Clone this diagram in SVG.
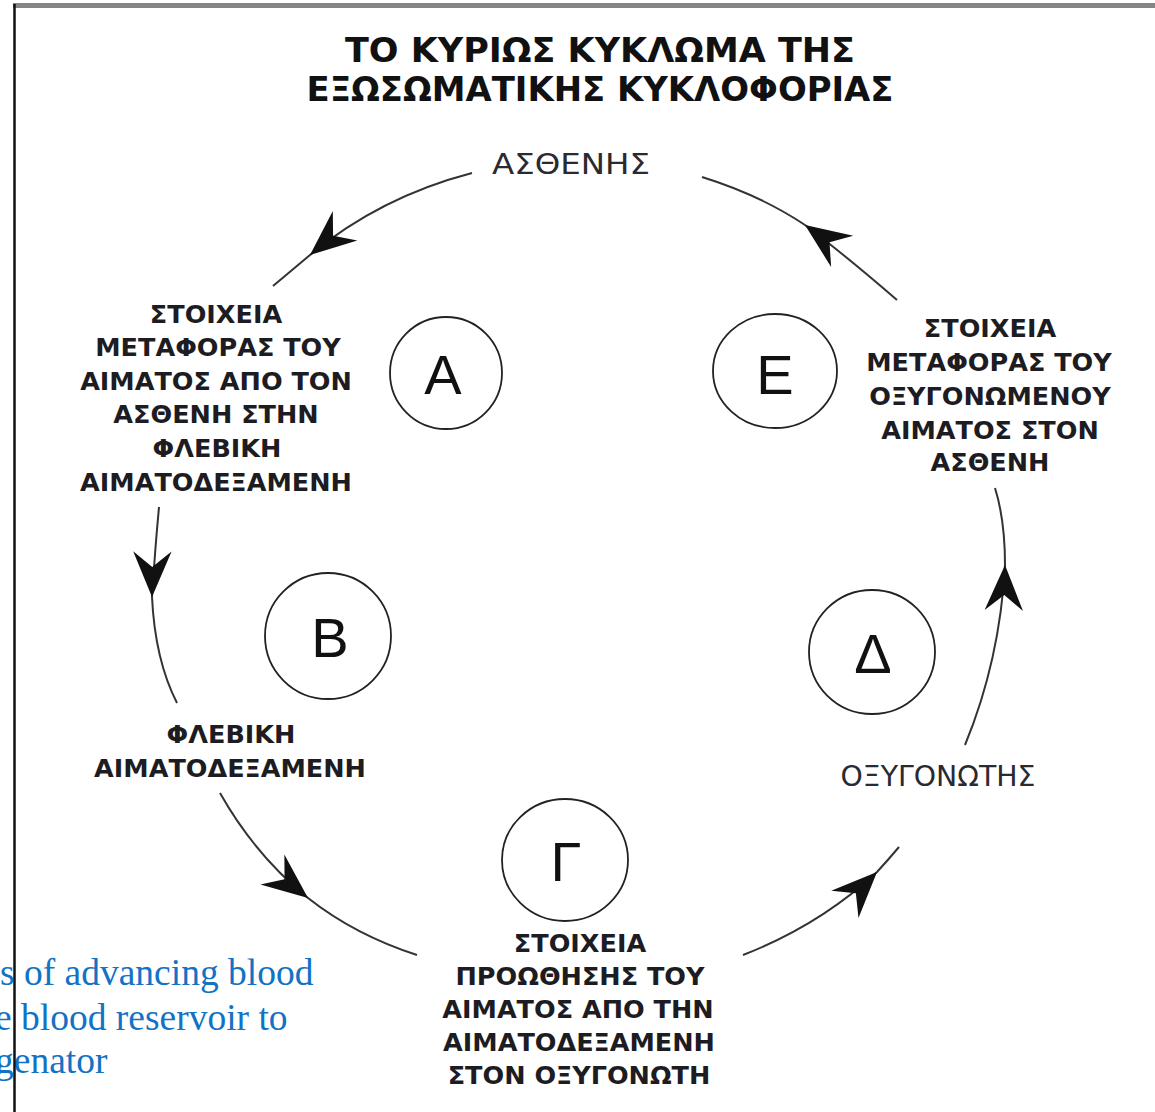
<svg xmlns="http://www.w3.org/2000/svg" width="1155" height="1112" viewBox="0 0 1155 1112">
<style>
.title{font-family:"DejaVu Sans Condensed","DejaVu Sans",sans-serif;font-weight:bold;font-size:33px;fill:#111;text-anchor:middle}
.lbl{font-family:"DejaVu Sans",Verdana,sans-serif;font-weight:bold;font-size:25.5px;fill:#1c1c22;text-anchor:middle}
.lblr{font-family:"DejaVu Sans",Verdana,sans-serif;font-size:28px;fill:#2a2a30;text-anchor:middle}
.ring{fill:none;stroke:#222;stroke-width:1.8}
.letter{font-family:"Liberation Sans",Arial,sans-serif;font-size:56px;fill:#111;text-anchor:middle}
.conn{fill:none;stroke:#333;stroke-width:2;marker-mid:url(#ah)}
.blue{font-family:"Liberation Serif","Times New Roman",serif;font-size:37.5px;fill:#1272c4}
</style>
<defs>
<marker id="ah" markerUnits="userSpaceOnUse" markerWidth="60" markerHeight="60" viewBox="-45 -25 50 50" refX="0" refY="0" orient="auto">
<path d="M0,0 L-38,-16 L-25,0 L-38,16 Z" fill="#111"/>
</marker>
</defs>
<rect x="0" y="0" width="1155" height="1112" fill="#fff"/>

<g id="title">
<text class="title" x="600" y="62" textLength="510" lengthAdjust="spacingAndGlyphs">ΤΟ ΚΥΡΙΩΣ ΚΥΚΛΩΜΑ ΤΗΣ</text>
<text class="title" x="600" y="101" textLength="587" lengthAdjust="spacingAndGlyphs">ΕΞΩΣΩΜΑΤΙΚΗΣ ΚΥΚΛΟΦΟΡΙΑΣ</text>
</g>

<g id="connectors">
<path class="conn" d="M472,173 Q380,197 310,255 Q292,270 273,286"/>
<path class="conn" d="M159,507 Q155,550 152,597 Q155,660 177,703"/>
<path class="conn" d="M220,793 Q255,855 308,898 Q355,935 417,955"/>
<path class="conn" d="M743,955 Q820,925 877,872 Q888,860 899,847"/>
<path class="conn" d="M965,745 Q1000,660 1005,565 Q1005,520 995,488"/>
<path class="conn" d="M897,300 Q845,255 805,225 Q760,195 702,177"/>
</g>

<g id="node-patient">
<text class="lblr" x="571" y="174" font-size="30" textLength="158" lengthAdjust="spacingAndGlyphs">ΑΣΘΕΝΗΣ</text>
</g>

<g id="node-transfer-to-reservoir">
<text class="lbl" x="216" y="323">ΣΤΟΙΧΕΙΑ</text>
<text class="lbl" x="218" y="356">ΜΕΤΑΦΟΡΑΣ ΤΟΥ</text>
<text class="lbl" x="216" y="390">ΑΙΜΑΤΟΣ ΑΠΟ ΤΟΝ</text>
<text class="lbl" x="216" y="423">ΑΣΘΕΝΗ ΣΤΗΝ</text>
<text class="lbl" x="217" y="457">ΦΛΕΒΙΚΗ</text>
<text class="lbl" x="216" y="491">ΑΙΜΑΤΟΔΕΞΑΜΕΝΗ</text>
</g>

<g id="node-venous-reservoir">
<text class="lbl" x="231" y="743">ΦΛΕΒΙΚΗ</text>
<text class="lbl" x="230" y="777">ΑΙΜΑΤΟΔΕΞΑΜΕΝΗ</text>
</g>

<g id="node-advance-to-oxygenator">
<text class="lbl" x="580" y="952">ΣΤΟΙΧΕΙΑ</text>
<text class="lbl" x="580" y="985">ΠΡΟΩΘΗΣΗΣ ΤΟΥ</text>
<text class="lbl" x="578" y="1018">ΑΙΜΑΤΟΣ ΑΠΟ ΤΗΝ</text>
<text class="lbl" x="579" y="1051">ΑΙΜΑΤΟΔΕΞΑΜΕΝΗ</text>
<text class="lbl" x="579" y="1084">ΣΤΟΝ ΟΞΥΓΟΝΩΤΗ</text>
</g>

<g id="node-oxygenator">
<text class="lblr" x="938" y="786" textLength="195" lengthAdjust="spacingAndGlyphs">ΟΞΥΓΟΝΩΤΗΣ</text>
</g>

<g id="node-transfer-to-patient">
<text class="lbl" x="990" y="337">ΣΤΟΙΧΕΙΑ</text>
<text class="lbl" x="989" y="371">ΜΕΤΑΦΟΡΑΣ ΤΟΥ</text>
<text class="lbl" x="990" y="405">ΟΞΥΓΟΝΩΜΕΝΟΥ</text>
<text class="lbl" x="990" y="439">ΑΙΜΑΤΟΣ ΣΤΟΝ</text>
<text class="lbl" x="990" y="471">ΑΣΘΕΝΗ</text>
</g>

<g id="circle-A">
<ellipse class="ring" cx="446" cy="373" rx="56" ry="56"/>
<text class="letter" x="443" y="394">Α</text>
</g>
<g id="circle-B">
<ellipse class="ring" cx="328" cy="636" rx="63" ry="63"/>
<text class="letter" x="330" y="657">Β</text>
</g>
<g id="circle-G">
<ellipse class="ring" cx="565" cy="860" rx="63" ry="61"/>
<text class="letter" x="566" y="881">Γ</text>
</g>
<g id="circle-D">
<ellipse class="ring" cx="872" cy="652" rx="63" ry="62"/>
<text class="letter" x="873" y="673">Δ</text>
</g>
<g id="circle-E">
<ellipse class="ring" cx="775" cy="371" rx="62" ry="57"/>
<text class="letter" x="775" y="394">Ε</text>
</g>

<g id="caption">
<text class="blue" x="0" y="985">s of advancing blood</text>
<text class="blue" x="-5" y="1030">e blood reservoir to</text>
<text class="blue" x="-5" y="1073">genator</text>
</g>

<g id="frame">
<rect x="13" y="3" width="1142" height="5" fill="#858585"/>
<line x1="14.5" y1="4" x2="14.5" y2="1112" stroke="#111" stroke-width="2.5"/>
</g>
</svg>
